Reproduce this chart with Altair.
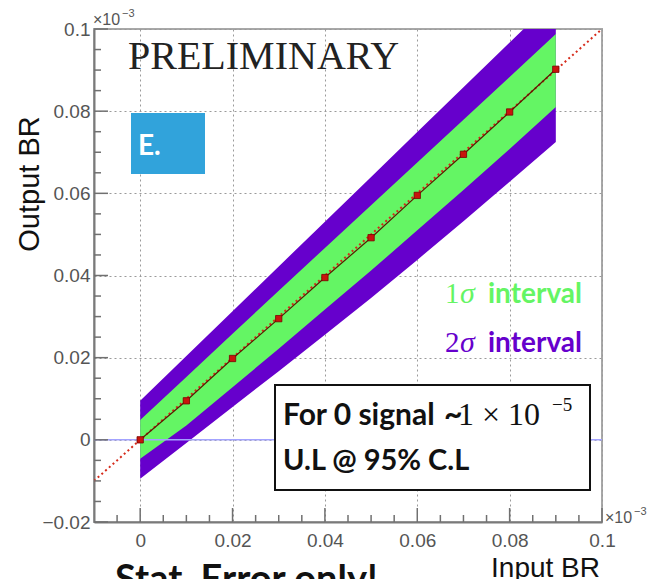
import altair as alt
import pandas as pd

# ---- data ----
x_in = [0.0, 0.01, 0.02, 0.03, 0.04, 0.05, 0.06, 0.07, 0.08, 0.09]
y_out = [0.0, 0.0095, 0.0198, 0.0295, 0.0395, 0.0492, 0.0595, 0.0695, 0.0798, 0.0902]
green_lo = [-0.0046, 0.0035, 0.0128, 0.0222, 0.0317, 0.0412, 0.0510, 0.0608, 0.0708, 0.0810]
green_hi = [0.0048, 0.0153, 0.0258, 0.0363, 0.0467, 0.0571, 0.0675, 0.0779, 0.0883, 0.0988]
purple_lo = [-0.0095, -0.0008, 0.0080, 0.0167, 0.0256, 0.0345, 0.0438, 0.0532, 0.0628, 0.0725]
purple_hi = [0.0095, 0.0204, 0.0313, 0.0422, 0.0531, 0.0640, 0.0749, 0.0858, 0.0967, 0.1076]
diag_x = [-0.01, 0.1]
diag_y = [-0.01, 0.1]
zero_x = [-0.01, 0.1]
zero_y = [0.0, 0.0]

x_major = [0.0, 0.02, 0.04, 0.06, 0.08, 0.1]
x_minor = [-0.005, 0.005, 0.01, 0.015, 0.025, 0.03, 0.035, 0.045, 0.05, 0.055,
           0.065, 0.07, 0.075, 0.085, 0.09, 0.095]
y_major = [-0.02, 0.0, 0.02, 0.04, 0.06, 0.08, 0.1]
y_minor = [-0.015, -0.01, -0.005, 0.005, 0.01, 0.015, 0.025, 0.03, 0.035, 0.045,
           0.05, 0.055, 0.065, 0.07, 0.075, 0.085, 0.09, 0.095]

W, H = 508, 493
xs = alt.Scale(domain=[-0.01, 0.1], nice=False, zero=False)
ys = alt.Scale(domain=[-0.02, 0.1], nice=False, zero=False)

lab_expr = "datum.value == 0 ? '0' : format(datum.value, '.2~f')"
common_axis = dict(title=None, ticks=False, grid=True, gridDash=[2, 3], gridColor="#9a9a9a",
                   gridWidth=1, domainColor="#7a7a7a", domainWidth=2, labelColor="#555555",
                   labelFont="Liberation Sans", labelFontSize=19, labelFlush=False,
                   labelOverlap=False, labelExpr=lab_expr)
xaxis = alt.Axis(values=x_major, labelPadding=9, **common_axis)
yaxis = alt.Axis(values=y_major, labelPadding=4, **common_axis)


def X(f):
    return alt.X(f, scale=xs, axis=xaxis)


def Y(f):
    return alt.Y(f, scale=ys, axis=yaxis)


band = pd.DataFrame({"x": x_in, "glo": green_lo, "ghi": green_hi,
                     "plo": purple_lo, "phi": purple_hi})
pts = pd.DataFrame({"x": x_in, "y": y_out})
diag = pd.DataFrame({"x": diag_x, "y": diag_y})
zero = pd.DataFrame({"x": zero_x, "y": zero_y})

purple = alt.Chart(band).mark_area(color="#6600cc", clip=True, opacity=1).encode(
    x=X("x:Q"), y=Y("plo:Q"), y2="phi:Q")
green = alt.Chart(band).mark_area(color="#64f564", clip=True, opacity=1).encode(
    x=X("x:Q"), y=Y("glo:Q"), y2="ghi:Q")
zline = alt.Chart(zero).mark_line(color="#a3a3ff", strokeWidth=1.5, clip=True).encode(
    x=X("x:Q"), y=Y("y:Q"))
dline = alt.Chart(diag).mark_line(color="#d62a1a", strokeWidth=2, strokeDash=[2, 3], clip=True).encode(
    x=X("x:Q"), y=Y("y:Q"))
pline = alt.Chart(pts).mark_line(color="#5a1a00", strokeWidth=1.2).encode(
    x=X("x:Q"), y=Y("y:Q"))
pmark = alt.Chart(pts).mark_square(size=40, color="#c8140c", opacity=1,
                                   stroke="#7a0000", strokeWidth=0.8).encode(
    x=X("x:Q"), y=Y("y:Q"))

tick_style = dict(color="#707070", strokeWidth=1.5)
xt_maj = alt.Chart(pd.DataFrame({"x": x_major})).mark_rule(**tick_style).encode(
    x=X("x:Q"), y=alt.value(H), y2=alt.value(H - 14))
xt_min = alt.Chart(pd.DataFrame({"x": x_minor})).mark_rule(**tick_style).encode(
    x=X("x:Q"), y=alt.value(H), y2=alt.value(H - 7))
yt_maj = alt.Chart(pd.DataFrame({"y": y_major})).mark_rule(**tick_style).encode(
    y=Y("y:Q"), x=alt.value(0), x2=alt.value(14))
yt_min = alt.Chart(pd.DataFrame({"y": y_minor})).mark_rule(**tick_style).encode(
    y=Y("y:Q"), x=alt.value(0), x2=alt.value(7))


def label(text, x, y, **kw):
    opts = dict(align="left", baseline="alphabetic")
    opts.update(kw)
    return alt.Chart(pd.DataFrame({"t": [text]})).mark_text(**opts).encode(
        x=alt.value(x), y=alt.value(y), text="t:N")


def box(x1, y1, x2, y2, **kw):
    return alt.Chart(pd.DataFrame({"a": [0]})).mark_rect(**kw).encode(
        x=alt.value(x1), x2=alt.value(x2), y=alt.value(y1), y2=alt.value(y2))


texts = [
    label("Output BR", -64, 155, angle=270, align="center", baseline="middle",
          font="Liberation Sans", fontSize=29, color="#111111"),
    label("Input BR", 506, 548, align="right", font="Liberation Sans", fontSize=28, color="#111111"),
    label("×10", -1, -4, font="Liberation Sans", fontSize=16, color="#555555"),
    label("−3", 28, -12, font="Liberation Sans", fontSize=11, color="#555555"),
    label("×10", 511, 494, font="Liberation Sans", fontSize=16, color="#555555"),
    label("−3", 540, 486, font="Liberation Sans", fontSize=11, color="#555555"),
    label("PRELIMINARY", 34, 40, font="Liberation Serif", fontSize=40, color="#222222"),
    box(37, 84, 111, 145, color="#31a3db"),
    label("E.", 44, 126, font="Lato", fontWeight="bold", fontSize=28, color="white"),
    label("1", 351, 274, font="Liberation Serif", fontSize=29, color="#64f564"),
    label("σ", 366, 274, font="Liberation Serif", fontStyle="italic", fontSize=30, color="#64f564"),
    label("interval", 394, 274, font="Lato", fontWeight="bold", fontSize=28, color="#64f564"),
    label("2", 351, 323, font="Liberation Serif", fontSize=29, color="#6600cc"),
    label("σ", 366, 323, font="Liberation Serif", fontStyle="italic", fontSize=30, color="#6600cc"),
    label("interval", 394, 323, font="Lato", fontWeight="bold", fontSize=28, color="#6600cc"),
    box(181, 356, 496, 461, fill="white", stroke="#111111", strokeWidth=2),
    label("For 0 signal", 189, 396, font="Lato", fontWeight="bold", fontSize=30, color="#111111"),
    label("~", 350, 396, font="Lato", fontWeight="bold", fontSize=32, color="#111111"),
    label("1 × 10", 364, 396, font="Liberation Serif", fontSize=32, color="#111111"),
    label("−5", 458, 382, font="Liberation Serif", fontSize=19, color="#111111"),
    label("U.L  @ 95% C.L", 189, 441, font="Lato", fontWeight="bold", fontSize=29, color="#111111"),
    label("Stat.  Error only!", 21, 563, font="Lato", fontWeight="bold", fontSize=38, color="#111111"),
]

chart = alt.layer(purple, green, zline, dline, pline, pmark,
                  xt_maj, xt_min, yt_maj, yt_min, *texts).properties(
    width=W, height=H,
    padding={"left": 94, "top": 29, "right": 47, "bottom": 57},
    autosize=alt.AutoSizeParams(type="none"),
    background="white",
).configure_view(stroke="#a8a8a8", strokeWidth=2)

chart.save("out.html", embed_options={"renderer": "svg", "actions": False})
